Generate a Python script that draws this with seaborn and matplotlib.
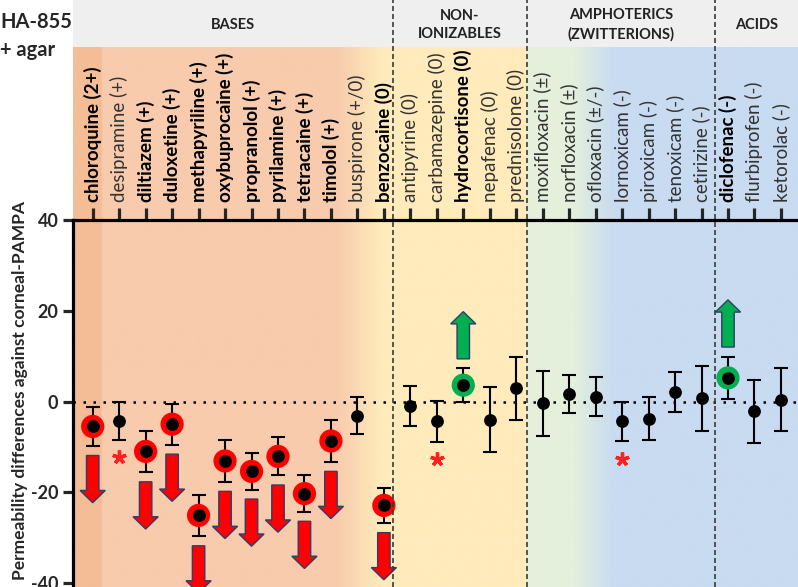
import numpy as np
import pandas as pd
import matplotlib
matplotlib.use("Agg")
import matplotlib.pyplot as plt
import seaborn as sns
from matplotlib.patches import FancyArrow, Rectangle
from matplotlib.colors import to_rgb
import matplotlib.transforms as mtransforms

# ---------------- data ----------------
compounds = ["chloroquine (2+)", "desipramine (+)", "diltiazem (+)", "duloxetine (+)",
             "methapyriline (+)", "oxybuprocaine (+)", "propranolol (+)", "pyrilamine (+)",
             "tetracaine (+)", "timolol (+)", "buspirone (+/0)", "benzocaine (0)",
             "antipyrine (0)", "carbamazepine (0)", "hydrocortisone (0)", "nepafenac (0)",
             "prednisolone (0)", "moxifloxacin (±)", "norfloxacin (±)", "ofloxacin (±/-)",
             "lornoxicam (-)", "piroxicam (-)", "tenoxicam (-)", "cetirizine (-)",
             "diclofenac (-)", "flurbiprofen (-)", "ketorolac (-)"]
diff_values = [-5.5, -4.2, -11.0, -5.0, -25.1, -13.1, -15.4, -12.1, -20.3, -8.7, -3.1, -22.9,
               -0.9, -4.4, 3.6, -4.0, 2.9, -0.4, 1.6, 1.1, -4.4, -3.8, 2.1, 0.7, 5.2, -2.2, 0.4]
diff_errors = [4.3, 4.2, 4.6, 4.5, 4.6, 4.6, 4.0, 4.2, 4.0, 4.6, 4.1, 3.9,
               4.4, 4.5, 3.7, 7.1, 7.0, 7.1, 4.2, 4.3, 4.4, 4.7, 4.5, 7.1, 4.7, 7.0, 7.0]
bold_label = [1, 0, 1, 1, 1, 1, 1, 1, 1, 1, 0, 1,
              0, 0, 1, 0, 0, 0, 0, 0, 0, 0, 0, 0, 1, 0, 0]
trend = ["down", "", "down", "down", "down", "down", "down", "down", "down", "down", "", "down",
         "", "", "up", "", "", "", "", "", "", "", "", "", "up", "", ""]
significant = [0, 1, 0, 0, 0, 0, 0, 0, 0, 0, 0, 0,
               0, 1, 0, 0, 0, 0, 0, 0, 1, 0, 0, 0, 0, 0, 0]
group_names = ["BASES", "NON-\nIONIZABLES", "AMPHOTERICS\n(ZWITTERIONS)", "ACIDS"]
group_bounds = [11.33, 16.4, 23.5]
yticks = [-40, -20, 0, 20, 40]

# ---------------- style ----------------
sns.set_style("white")
plt.rcParams["font.family"] = ["Lato", "DejaVu Sans"]

W, H = 798, 587
fig = plt.figure(figsize=(W / 100, H / 100), dpi=100)

ax_left_px, ax_top_px, hdr_px = 73, 220, 47
xl, xr = -0.744, 26.645
yb, yt = -40.88, 40

# background gradient axes
bg = fig.add_axes([ax_left_px / W, 0, 1 - ax_left_px / W, (H - hdr_px) / H], zorder=0)
bg.set_axis_off()
xs = np.linspace(xl, xr, 3000)
strip, peach, yellow, green, blue = [np.array(to_rgb(c)) for c in
                                     ["#F4BD96", "#F8CBAD", "#FFEBBB", "#E5F0DC", "#C8DBF1"]]
stops = [(xl, strip), (0.34, strip), (0.345, peach), (9.2, peach), (10.9, yellow),
         (16.4, yellow), (16.405, green), (18.1, green), (19.7, blue), (xr, blue)]
sx = [s[0] for s in stops]
cols = np.stack([np.interp(xs, sx, [s[1][k] for s in stops]) for k in range(3)], axis=-1)
bg.imshow(cols[np.newaxis, :, :], extent=(xl, xr, 0, 1), aspect="auto", interpolation="bilinear")
bg.set_xlim(xl, xr)
bg.set_ylim(0, 1)

# header band
fig.add_artist(Rectangle((ax_left_px / W, 1 - hdr_px / H), 1 - ax_left_px / W, hdr_px / H,
                         transform=fig.transFigure, facecolor="#EFEFEF", edgecolor="none", zorder=0.5))

# main axes
ax = fig.add_axes([ax_left_px / W, 0, 1 - ax_left_px / W, (H - ax_top_px) / H], zorder=2)
ax.set_facecolor("none")

n = len(compounds)
df = pd.DataFrame({"x": np.arange(n), "value": diff_values, "err": diff_errors,
                   "trend": trend, "sig": significant})

ax.axhline(0, color="black", lw=1.8, ls=(0, (1, 3)), zorder=1)

ax.errorbar(df["x"], df["value"], yerr=df["err"], fmt="none", ecolor="black",
            elinewidth=1.5, capsize=5, capthick=1.5, zorder=2)

rings = df[df["trend"] != ""]
sns.scatterplot(data=rings, x="x", y="value", hue="trend",
                palette={"down": "#FF0000", "up": "#00B050"}, s=280, linewidth=0,
                legend=False, ax=ax, zorder=3)
sns.scatterplot(data=df, x="x", y="value", color="black", s=85, linewidth=0,
                legend=False, ax=ax, zorder=4)

# arrows
arr_len, gap = 10.4, 2.1
for _, r in df.iterrows():
    if r["trend"] == "down":
        start = r["value"] - r["err"] - gap
        ax.add_patch(FancyArrow(r["x"], start, 0, -arr_len, width=0.47, head_width=0.95,
                                head_length=2.7, length_includes_head=True,
                                facecolor="#FF0000", edgecolor="#2F3D6B", lw=1.0, zorder=3))
    elif r["trend"] == "up":
        start = r["value"] + r["err"] + gap
        ax.add_patch(FancyArrow(r["x"], start, 0, arr_len, width=0.47, head_width=0.95,
                                head_length=2.7, length_includes_head=True,
                                facecolor="#00B050", edgecolor="#2F3D6B", lw=1.0, zorder=3))

# asterisks
sig = df[df["sig"] == 1]
ax.plot(sig["x"], sig["value"] - sig["err"] - 3.8, ls="none", marker=(5, 2, 0),
        markersize=10, mew=2.4, color="#FF2020", zorder=4)

# dividers
for b in group_bounds:
    ax.axvline(b, ymin=0, ymax=H / (H - ax_top_px), color="#3A3A3A", lw=1.2,
               ls=(0, (3, 1.8)), clip_on=False, zorder=5)

ax.set_xlim(xl, xr)
ax.set_ylim(yb, yt)

# axes styling
for s in ["right", "bottom"]:
    ax.spines[s].set_visible(False)
for s in ["top", "left"]:
    ax.spines[s].set_linewidth(2.3)
    ax.spines[s].set_color("black")

ax.set_xticks(range(n))
ax.set_xticklabels(compounds, rotation=90)
ax.xaxis.tick_top()
ax.tick_params(axis="x", top=True, bottom=False, labeltop=True, labelbottom=False,
               length=9, width=2.3, pad=4, direction="out", labelsize=13.5)
for lab, b in zip(ax.get_xticklabels(), bold_label):
    lab.set_fontweight("bold" if b else "normal")
    lab.set_color("black" if b else "#333333")

ax.set_yticks(yticks)
ax.set_yticklabels([str(t) for t in yticks])
ax.tick_params(axis="y", left=True, length=7.5, width=2.3, pad=3, direction="out",
               labelsize=13)
for lab in ax.get_yticklabels():
    lab.set_fontweight("bold")

ax.set_xlabel("")
ax.set_ylabel("Permeability differences against corneal-PAMPA", fontsize=12.5,
              fontweight="bold")
ax.yaxis.set_label_coords(-0.062, 0.535)

# group headers
bounds = [xl] + group_bounds + [xr]
trans = mtransforms.blended_transform_factory(ax.transData, fig.transFigure)
for i, g in enumerate(group_names):
    cx = (bounds[i] + bounds[i + 1]) / 2
    fig.text(cx, 1 - 25 / H, g, transform=trans, ha="center", va="center",
             fontsize=10.5, fontweight="bold", linespacing=1.4, color="#222222")

fig.text(0.0, 1 - 22 / H, "HA-855", ha="left", va="center", fontsize=14.5, fontweight="bold")
fig.text(0.0, 1 - 50 / H, "+ agar", ha="left", va="center", fontsize=14.5, fontweight="bold")

fig.savefig("out.png", dpi=100)
